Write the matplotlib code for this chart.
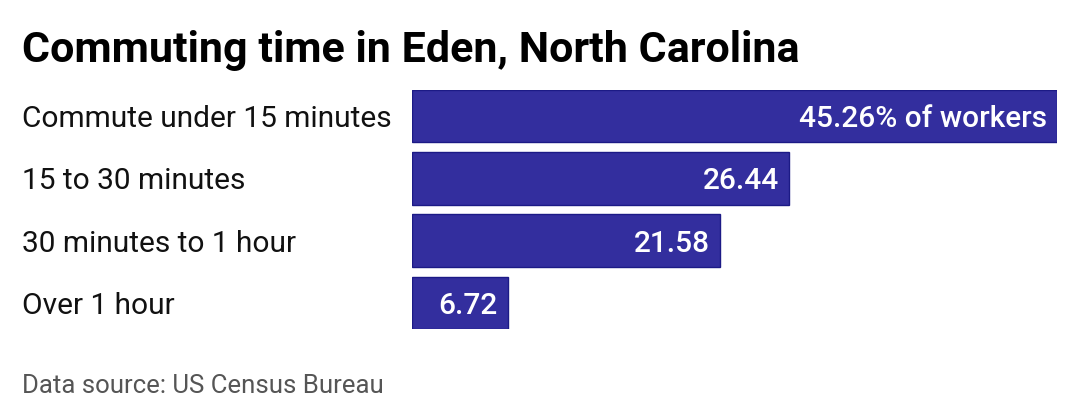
import matplotlib.pyplot as plt

categories = ['Commute under 15 minutes', '15 to 30 minutes',
              '30 minutes to 1 hour', 'Over 1 hour']
values = [45.26, 26.44, 21.58, 6.72]
value_labels = ['45.26% of workers', '26.44', '21.58', '6.72']

plt.rcParams['font.family'] = ['Roboto', 'DejaVu Sans']

fig = plt.figure(figsize=(10.8, 4.2), dpi=100)
ax = fig.add_axes([412 / 1080, 1 - 329 / 420, 645 / 1080, 239 / 420])

ypos = list(range(len(values)))
ax.barh(ypos, values, height=0.84, color='#332e9e', edgecolor='#1c1a86',
        linewidth=1)
ax.set_xlim(0, max(values))
ax.set_ylim(len(values) - 1 + 0.42, -0.42)
ax.axis('off')

# category names sit at a fixed x in figure space, left of the bars
trans = ax.get_yaxis_transform()
for y, v, lab, cat in zip(ypos, values, value_labels, categories):
    ax.text(v - 0.7, y, lab, color='white', fontsize=21.5, ha='right',
            va='center_baseline', fontweight='medium')
    ax.text((22 - 412) / 645, y, cat, color='#111111', fontsize=21.5,
            ha='left', va='center_baseline', transform=trans)

fig.text(22 / 1080, 1 - 62 / 420, 'Commuting time in Eden, North Carolina',
         fontsize=31, fontweight='bold', color='black', ha='left',
         va='baseline')
fig.text(22 / 1080, 1 - 393 / 420, 'Data source: US Census Bureau',
         fontsize=18.5, color='#555555', ha='left', va='baseline')

fig.savefig('out.png', dpi=100)
